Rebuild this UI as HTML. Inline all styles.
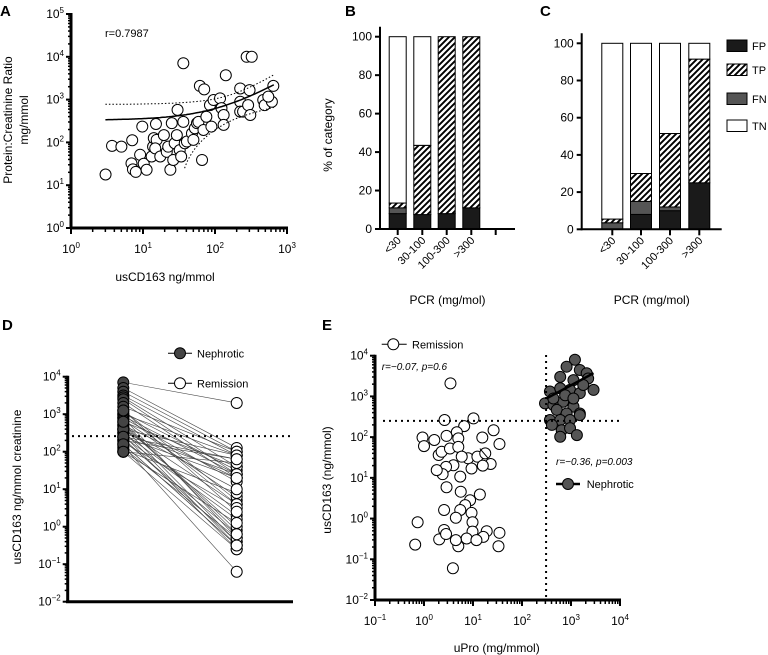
<!DOCTYPE html>
<html><head><meta charset="utf-8"><style>
html,body{margin:0;padding:0;background:#fff;}
svg{display:block;font-family:"Liberation Sans",Arial,sans-serif;}
</style></head><body>
<svg id="fig" xmlns="http://www.w3.org/2000/svg" width="768" height="655" viewBox="0 0 768 655">
<defs>
<pattern id="hatch" patternUnits="userSpaceOnUse" width="6" height="6">
<rect width="6" height="6" fill="#fff"/>
<path d="M-1,1 l2,-2 M0,6 l6,-6 M5,7 l2,-2" stroke="#000" stroke-width="1.9"/>
</pattern>
</defs>
<text x="0" y="16" font-size="15" font-weight="bold">A</text>
<text x="345" y="16" font-size="15" font-weight="bold">B</text>
<text x="540" y="16" font-size="15" font-weight="bold">C</text>
<text x="2" y="330" font-size="15" font-weight="bold">D</text>
<text x="322" y="330" font-size="15" font-weight="bold">E</text>
<g id="gA"></g>
<g id="gB"></g>
<g id="gC"></g>
<g id="gD"></g>
<g id="gE"></g>
</svg>
<script>
// ---- Panel A data (log10 values) ----
const aLogX = [.48,.57,.70,.85,.84,.86,.90,.96,.99,1.01,1.05,1.12,1.14,1.18,1.15,1.19,1.17,1.24,1.29,1.33,1.35,1.38,1.40,1.42,1.44,1.47,1.48,1.51,1.53,1.56,1.56,1.58,1.61,1.68,1.70,1.72,1.75,1.77,1.82,1.84,1.79,1.85,1.88,1.93,1.95,1.98,2.07,2.09,2.12,2.15,2.12,2.35,2.35,2.35,2.39,2.44,2.46,2.49,2.51,2.48,2.67,2.69,2.81,2.79,2.74];
const aLogY = [1.25,1.92,1.90,2.05,1.51,1.37,1.31,1.71,2.37,1.50,1.36,1.67,1.90,2.43,2.10,2.06,1.86,1.67,2.17,1.78,1.90,1.36,2.45,1.59,1.98,2.17,2.76,1.82,1.67,3.85,2.48,1.98,2.02,2.21,2.06,2.33,2.45,2.48,1.59,2.29,3.32,3.24,2.60,2.87,2.37,2.99,3.03,2.80,2.64,3.57,2.41,3.26,2.95,2.72,2.72,4.00,2.87,2.64,4.00,3.22,2.99,2.87,3.32,2.95,3.07];
const aFit = [331, 2.88];     // intercept, slope (linear)
const aBand = [411, 6.4, 60]; // h0, k, xmean
const aR = "r=0.7987";
// ---- Panel B/C data ----
const bCats = ["<30","30-100","100-300",">300"];
const bFP = [8,7.5,8,11];
const bFN = [3,0,0,0];
const bTP = [2.5,36,92,89];
const cCats = ["<30","30-100","100-300",">300"];
const cFP = [0,8,10,25];
const cFN = [3.5,7,2,0];
const cTP = [2,15,39.5,66.5];
const pctTicks = [0,20,40,60,80,100];
const legendCats = ["FP","TP","FN","TN"];
// ---- Panel D data (log10) ----
const dNeph = [3.85,3.7,3.6,3.5,3.45,3.4,3.3,3.2,3.1,3.05,3.0,3.0,2.95,2.9,2.9,2.85,2.8,2.75,2.7,2.7,2.65,2.6,2.6,2.55,2.5,2.5,2.45,2.4,2.4,2.35,2.3,2.3,2.25,2.2,2.15,2.1,2.05,2.0,2.0,2.6,2.8,3.1,2.4,2.2,2.0];
const dRem = [3.3,2.1,2.0,1.9,1.6,1.4,1.3,2.0,0.7,1.5,1.9,0.6,1.4,-0.3,1.2,0.8,1.6,-0.1,0.0,1.3,-0.4,0.6,1.9,-0.5,0.3,1.4,-0.6,0.2,1.3,-0.4,-0.2,1.8,0.5,-0.5,-1.2,-0.3,0.9,-0.6,1.7,1.0,-0.2,0.4,1.8,-0.5,0.1];
const dThreshold = 260;
// ---- Panel E data (log10) ----
const eRemX = [.54,.42,1.01,.82,1.42,-.03,0,.21,.46,.67,.70,1.19,1.54,.30,.36,.53,.70,.90,1.09,1.25,1.36,1.20,.97,.60,.45,.38,.74,.46,.75,1.14,.94,.84,.41,.74,.65,.97,-.13,.99,.41,.99,1.28,1.54,.31,.87,1.21,-.18,.70,1.52,.59,.45,.65,1.07,.77,.26];
const eRemY = [3.32,2.42,2.46,2.27,2.17,1.99,1.78,1.93,2.03,2.12,1.97,1.99,1.83,1.56,1.64,1.72,1.76,1.48,1.52,1.60,1.34,1.30,1.23,1.31,1.27,1.09,1.03,.77,.66,.59,.45,.33,.21,.21,.02,.14,-.09,-.09,-.28,-.32,-.31,-.35,-.51,-.49,-.45,-.64,-.68,-.68,-1.22,-.38,-.53,-.53,1.52,1.19];
const eNephX = [3.08,2.91,3.18,3.32,2.78,3.05,3.35,2.57,2.78,2.98,3.18,3.46,2.47,2.64,2.84,3.05,2.71,2.91,3.18,2.57,2.78,2.98,3.18,2.61,2.81,2.98,2.78,3.12,3.25,2.88,2.64,3.05];
const eNephY = [3.90,3.73,3.65,3.57,3.48,3.40,3.44,3.12,3.20,3.16,3.08,3.16,2.83,2.79,2.87,2.75,2.67,2.58,2.58,2.42,2.42,2.42,2.54,2.30,2.17,2.22,2.01,2.05,3.28,3.03,2.95,2.95];
const eNephFit = [[2.50,2.95],[3.46,3.57]];
const eRemFit = [[1.14,1.72],[1.31,1.48]];
const eVThresh = 310, eHThresh = 250;

const NS="http://www.w3.org/2000/svg";
function mk(parent, tag, attrs, name){
  const el=document.createElementNS(NS,tag);
  for(const k in attrs) el.setAttribute(k,attrs[k]);
  
  
  parent.appendChild(el); return el;
}
function txt(parent,x,y,s,size,anchor,name,extra){
  const t=mk(parent,'text',Object.assign({x:x,y:y,'font-size':size,'text-anchor':anchor||'start'},extra||{}),name);
  t.textContent=s; return t;
}
function pow(parent,x,y,e,anchor,name){
  const g=mk(parent,'text',{x:x,y:y,'font-size':12,'text-anchor':anchor},name);
  const a=document.createElementNS(NS,'tspan'); a.textContent='10'; g.appendChild(a);
  const b=document.createElementNS(NS,'tspan'); b.setAttribute('font-size','8'); b.setAttribute('dy','-5'); b.textContent=(e<0?'\u2212'+(-e):''+e); g.appendChild(b);
}
function logY(g,x0,yTop,yBot,e0,e1,name){
  const per=(yBot-yTop)/(e1-e0);
  mk(g,'line',{x1:x0,y1:yTop-1,x2:x0,y2:yBot+1,stroke:'#000','stroke-width':3},name+'-line');
  for(let e=e0;e<=e1;e++){
    const y=yBot-(e-e0)*per;
    mk(g,'line',{x1:x0-5,y1:y,x2:x0,y2:y,stroke:'#000','stroke-width':2},name+'-tick');
    pow(g,x0-7,y+4,e,'end',name+'-label');
    if(e<e1) for(let m=2;m<10;m++){
      const yy=y-Math.log10(m)*per;
      mk(g,'line',{x1:x0-3,y1:yy,x2:x0,y2:yy,stroke:'#000','stroke-width':1.5},name+'-minor-tick');
    }
  }
  return v=>yBot-(v-e0)*per;
}
function logX(g,y0,xL,xR,e0,e1,name){
  const per=(xR-xL)/(e1-e0);
  mk(g,'line',{x1:xL-1,y1:y0,x2:xR+1,y2:y0,stroke:'#000','stroke-width':3},name+'-line');
  for(let e=e0;e<=e1;e++){
    const x=xL+(e-e0)*per;
    mk(g,'line',{x1:x,y1:y0,x2:x,y2:y0+6,stroke:'#000','stroke-width':2},name+'-tick');
    pow(g,x,y0+25,e,'middle',name+'-label');
    if(e<e1) for(let m=2;m<10;m++){
      const xx=x+Math.log10(m)*per;
      mk(g,'line',{x1:xx,y1:y0,x2:xx,y2:y0+4,stroke:'#000','stroke-width':1.5},name+'-minor-tick');
    }
  }
  return v=>xL+(v-e0)*per;
}
function circ(g,x,y,r,fill,name){
  return mk(g,'circle',{cx:x,cy:y,r:r,fill:fill,stroke:'#000','stroke-width':1},name);
}

// ===== Panel A =====
(function(){
  const g=document.getElementById('gA');
  const Y=logY(g,71,14,228,0,5,'a-y-axis');
  const X=logX(g,228,71,287,0,3,'a-x-axis');
  for(let i=0;i<aLogX.length;i++) circ(g,X(aLogX[i]),Y(aLogY[i]),5.5,'#fff','a-point');
  let ps='',pu='',pl='';
  for(let lx=Math.log10(3);lx<=2.82;lx+=0.02){
    const v=Math.pow(10,lx); const f=aFit[0]+aFit[1]*v;
    const h=Math.sqrt(aBand[0]*aBand[0]+aBand[1]*(v-aBand[2])*(v-aBand[2]));
    ps+=(ps?'L':'M')+X(lx).toFixed(1)+','+Y(Math.log10(f)).toFixed(1);
    pu+=(pu?'L':'M')+X(lx).toFixed(1)+','+Y(Math.log10(f+h)).toFixed(1);
    if(f-h>20) pl+=(pl?'L':'M')+X(lx).toFixed(1)+','+Y(Math.log10(f-h)).toFixed(1);
  }
  mk(g,'path',{d:ps,fill:'none',stroke:'#000','stroke-width':1.5},'a-fit-line');
  mk(g,'path',{d:pu,fill:'none',stroke:'#000','stroke-width':1,'stroke-dasharray':'1.5,2'},'a-upper-ci');
  mk(g,'path',{d:pl,fill:'none',stroke:'#000','stroke-width':1,'stroke-dasharray':'1.5,2'},'a-lower-ci');
  txt(g,105,37,aR,11,'start','a-correlation');
  txt(g,165,281,'usCD163 ng/mmol',12,'middle','a-x-title');
  txt(g,0,0,'Protein:Creatinine Ratio',12,'middle','a-y-title',{transform:'translate(12,120) rotate(-90)'});
  txt(g,0,0,'mg/mmol',12,'middle','a-y-title-unit',{transform:'translate(28,120) rotate(-90)'});
})();

// ===== Stacked bars =====
function stacked(gid,x0,xR,yTop,yBot,centers,w,cats,FP,FN,TP,extraTick,pre){
  const g=document.getElementById(gid);
  const Y=v=>yBot-(v/100)*(yBot-yTop);
  for(let i=0;i<cats.length;i++){
    const cx=centers[i], x=cx-w/2;
    const segs=[[0,FP[i],'#1a1a1a','fp'],[FP[i],FP[i]+FN[i],'#555','fn'],[FP[i]+FN[i],FP[i]+FN[i]+TP[i],'url(#hatch)','tp'],[FP[i]+FN[i]+TP[i],100,'#fff','tn']];
    for(const s of segs){ if(s[1]-s[0]<=0) continue;
      mk(g,'rect',{x:x,y:Y(s[1]),width:w,height:Y(s[0])-Y(s[1]),fill:s[2],stroke:'#000','stroke-width':1},pre+'-bar-'+s[3]);
    }
  }
  mk(g,'line',{x1:x0,y1:yTop-10,x2:x0,y2:yBot+1,stroke:'#000','stroke-width':2},pre+'-y-axis');
  mk(g,'line',{x1:x0-1,y1:yBot,x2:xR,y2:yBot,stroke:'#000','stroke-width':2},pre+'-x-axis');
  for(const t of pctTicks){
    mk(g,'line',{x1:x0-5,y1:Y(t),x2:x0,y2:Y(t),stroke:'#000','stroke-width':2},pre+'-y-tick');
    txt(g,x0-8,Y(t)+4,''+t,12,'end',pre+'-y-tick-label');
  }
  const ticks=centers.slice(); if(extraTick) ticks.push(extraTick);
  ticks.forEach((cx,i)=>{
    mk(g,'line',{x1:cx,y1:yBot,x2:cx,y2:yBot+6,stroke:'#000','stroke-width':2},pre+'-x-tick');
    if(i<cats.length) txt(g,0,0,cats[i],11,'end',pre+'-x-tick-label',{transform:'translate('+(cx+4)+','+(yBot+12)+') rotate(-45)'});
  });
  txt(g,(x0+xR)/2,304,'PCR (mg/mol)',12,'middle',pre+'-x-title');
}
stacked('gB',380,515,36.7,229,[397.7,422.3,446.7,471.3],17,bCats,bFP,bFN,bTP,495.7,'b');
txt(document.getElementById('gB'),0,0,'% of category',12,'middle','b-y-title',{transform:'translate(332,135) rotate(-90)'});
stacked('gC',581.7,721.7,43.3,229.3,[612.3,641,670,699.3],21,cCats,cFP,cFN,cTP,null,'c');
(function(){
  const g=document.getElementById('gC');
  const fills=['#1a1a1a','url(#hatch)','#555','#fff'];
  const ys=[40,64,93,120];
  legendCats.forEach((c,i)=>{
    mk(g,'rect',{x:727,y:ys[i],width:20,height:11.5,fill:fills[i],stroke:'#000','stroke-width':1},'legend-swatch-'+c.toLowerCase());
    txt(g,752,ys[i]+10,c,11,'start','legend-label-'+c.toLowerCase());
  });
})();

// ===== Panel D =====
(function(){
  const g=document.getElementById('gD');
  const Y=logY(g,67.7,376.7,601.7,-2,4,'d-y-axis');
  mk(g,'line',{x1:66,y1:601.7,x2:293,y2:601.7,stroke:'#000','stroke-width':3},'d-x-axis');
  const xN=123.3,xR=236.7;
  for(let i=0;i<dNeph.length;i++) mk(g,'line',{x1:xN,y1:Y(dNeph[i]),x2:xR,y2:Y(dRem[i]),stroke:'#444','stroke-width':0.6},'d-pair-line');
  mk(g,'line',{x1:72,y1:Y(Math.log10(dThreshold)),x2:292,y2:Y(Math.log10(dThreshold)),stroke:'#000','stroke-width':2,'stroke-dasharray':'2,4'},'d-threshold-line');
  for(let i=0;i<dNeph.length;i++) circ(g,xN,Y(dNeph[i]),5.5,'#444','d-nephrotic-point');
  for(let i=0;i<dRem.length;i++) circ(g,xR,Y(dRem[i]),5.5,'#fff','d-remission-point');
  mk(g,'line',{x1:168,y1:353.3,x2:192,y2:353.3,stroke:'#000','stroke-width':1},'d-legend-line-nephrotic');
  circ(g,180,353.3,5.5,'#444','d-legend-marker-nephrotic');
  txt(g,197,357.5,'Nephrotic',11,'start','d-legend-nephrotic');
  mk(g,'line',{x1:168,y1:383.3,x2:192,y2:383.3,stroke:'#000','stroke-width':1},'d-legend-line-remission');
  circ(g,180,383.3,5.5,'#fff','d-legend-marker-remission');
  txt(g,197,387.5,'Remission',11,'start','d-legend-remission');
  txt(g,0,0,'usCD163 ng/mmol creatinine',12,'middle','d-y-title',{transform:'translate(21,487) rotate(-90)'});
})();

// ===== Panel E =====
(function(){
  const g=document.getElementById('gE');
  const Y=logY(g,375,355.7,600,-2,4,'e-y-axis');
  const X=logX(g,600,375,620,-1,4,'e-x-axis');
  for(let i=0;i<eRemX.length;i++) circ(g,X(eRemX[i]),Y(eRemY[i]),5.5,'#fff','e-remission-point');
  mk(g,'line',{x1:X(eRemFit[0][0]),y1:Y(eRemFit[0][1]),x2:X(eRemFit[1][0]),y2:Y(eRemFit[1][1]),stroke:'#000','stroke-width':1},'e-remission-fit');
  for(let i=0;i<eNephX.length;i++) circ(g,X(eNephX[i]),Y(eNephY[i]),5.5,'#555','e-nephrotic-point');
  mk(g,'line',{x1:X(eNephFit[0][0]),y1:Y(eNephFit[0][1]),x2:X(eNephFit[1][0]),y2:Y(eNephFit[1][1]),stroke:'#000','stroke-width':2.5},'e-nephrotic-fit');
  const vx=X(Math.log10(eVThresh)), hy=Y(Math.log10(eHThresh));
  mk(g,'line',{x1:vx,y1:355,x2:vx,y2:600,stroke:'#000','stroke-width':2,'stroke-dasharray':'2,4'},'e-vertical-threshold');
  mk(g,'line',{x1:383,y1:hy,x2:620,y2:hy,stroke:'#000','stroke-width':2,'stroke-dasharray':'2,4'},'e-horizontal-threshold');
  mk(g,'line',{x1:381.7,y1:344.3,x2:406.7,y2:344.3,stroke:'#000','stroke-width':1},'e-legend-line-remission');
  circ(g,393.3,344.3,5.5,'#fff','e-legend-marker-remission');
  txt(g,412,348.5,'Remission',11,'start','e-legend-remission');
  txt(g,381.7,370,'r=\u22120.07, p=0.6',10,'start','e-remission-stats',{'font-style':'italic'});
  txt(g,556,465,'r=\u22120.36, p=0.003',10,'start','e-nephrotic-stats',{'font-style':'italic'});
  mk(g,'line',{x1:556,y1:484,x2:580,y2:484,stroke:'#000','stroke-width':2.5},'e-legend-line-nephrotic');
  circ(g,568,484,5.5,'#555','e-legend-marker-nephrotic');
  txt(g,586.7,488,'Nephrotic',11,'start','e-legend-nephrotic');
  txt(g,496.7,652,'uPro (mg/mmol)',12,'middle','e-x-title');
  txt(g,0,0,'usCD163 (ng/mmol)',12,'middle','e-y-title',{transform:'translate(331,480) rotate(-90)'});
})();
</script>
</body></html>
